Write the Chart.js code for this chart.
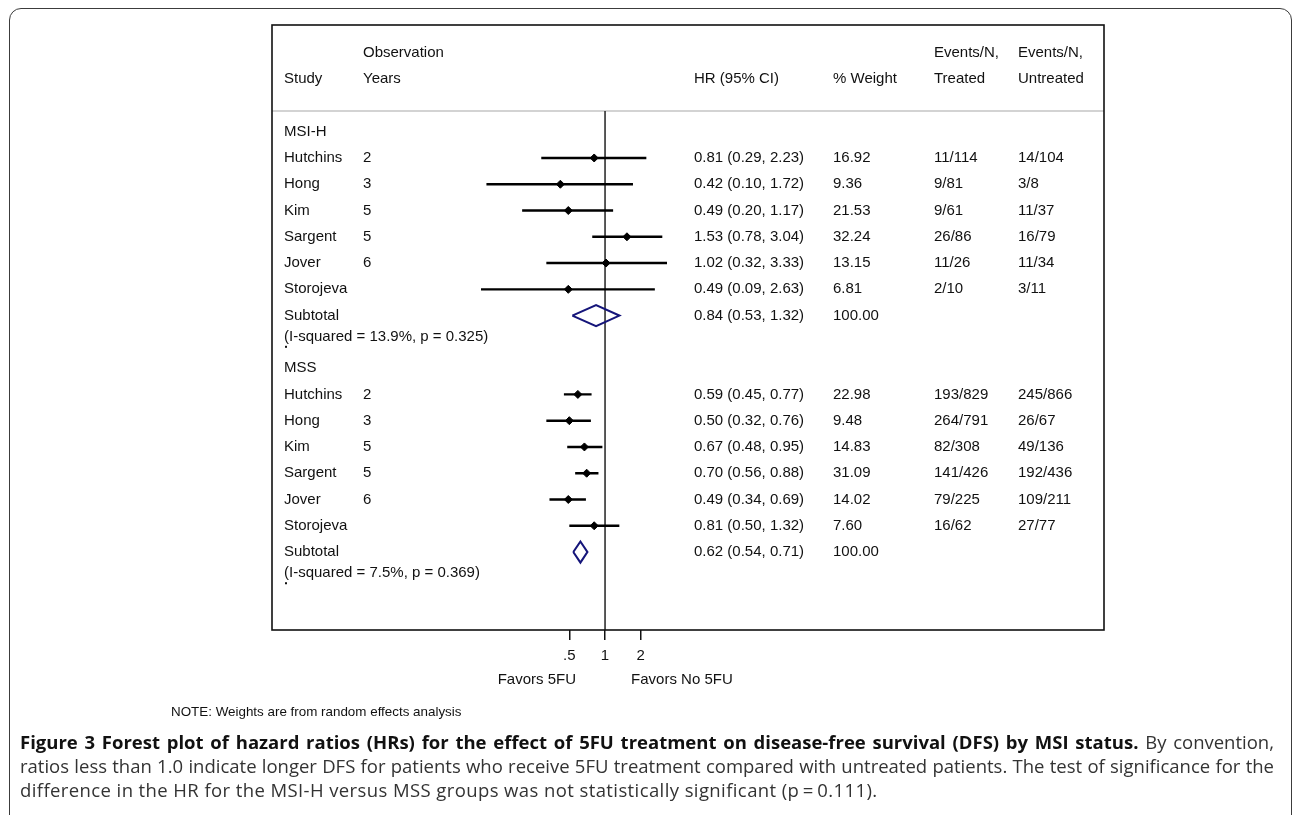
<!DOCTYPE html>
<html>
<head>
<meta charset="utf-8">
<script src="https://cdn.jsdelivr.net/npm/chart.js@4.4.0/dist/chart.umd.min.js"></script>
<style>
  html, body { margin: 0; padding: 0; background: #fff; }
  body { width: 1292px; height: 815px; position: relative; overflow: hidden; }
  #frame {
    position: absolute; left: 9px; top: 8px; width: 1283px; height: 860px;
    border: 1.5px solid #3c3c3c; border-radius: 12px; box-sizing: border-box;
  }
  #chart { position: absolute; left: 0; top: 0; }
  #note {
    position: absolute; left: 171px; top: 704px;
    font: 13.4px "Liberation Sans", Arial, sans-serif; color: #111;
  }
  #caption {
    position: absolute; left: 20px; top: 730px; width: 1254px;
    font: 18.5px "Open Sans", sans-serif; line-height: 24px; color: #333;
  }
  #caption div { white-space: nowrap; }
  #caption .full { text-align: justify; text-align-last: justify; }
  #caption .last { letter-spacing: 0.4px; }
  #caption b { color: #111; }
</style>
</head>
<body>
<div id="frame"></div>
<canvas id="chart" width="1292" height="815"></canvas>
<div id="note">NOTE: Weights are from random effects analysis</div>
<div id="caption">
  <div class="full"><b>Figure 3 Forest plot of hazard ratios (HRs) for the effect of 5FU treatment on disease-free survival (DFS) by MSI status.</b> By convention,</div>
  <div class="full">ratios less than 1.0 indicate longer DFS for patients who receive 5FU treatment compared with untreated patients. The test of significance for the</div>
  <div class="last">difference in the HR for the MSI-H versus MSS groups was not statistically significant (p&thinsp;=&thinsp;0.111).</div>
</div>

<script>
// ---- data ----
const groups = ['MSI-H', 'MSS'];
const studies = ['Hutchins', 'Hong', 'Kim', 'Sargent', 'Jover', 'Storojeva'];
const obsYears = ['2', '3', '5', '5', '6', ''];

const msihHR = [0.81, 0.42, 0.49, 1.53, 1.02, 0.49];
const msihLo = [0.29, 0.10, 0.20, 0.78, 0.32, 0.09];
const msihHi = [2.23, 1.72, 1.17, 3.04, 3.33, 2.63];
const msihWeight = ['16.92', '9.36', '21.53', '32.24', '13.15', '6.81'];
const msihTreated = ['11/114', '9/81', '9/61', '26/86', '11/26', '2/10'];
const msihUntreated = ['14/104', '3/8', '11/37', '16/79', '11/34', '3/11'];

const mssHR = [0.59, 0.50, 0.67, 0.70, 0.49, 0.81];
const mssLo = [0.45, 0.32, 0.48, 0.56, 0.34, 0.50];
const mssHi = [0.77, 0.76, 0.95, 0.88, 0.69, 1.32];
const mssWeight = ['22.98', '9.48', '14.83', '31.09', '14.02', '7.60'];
const mssTreated = ['193/829', '264/791', '82/308', '141/426', '79/225', '16/62'];
const mssUntreated = ['245/866', '26/67', '49/136', '192/436', '109/211', '27/77'];

// subtotals, one per group
const subtotalHR = [0.84, 0.62];
const subtotalLo = [0.53, 0.54];
const subtotalHi = [1.32, 0.71];
const subtotalHet = ['(I-squared = 13.9%, p = 0.325)', '(I-squared = 7.5%, p = 0.369)'];

const xTicks = [0.5, 1, 2];
const xTickLabels = ['.5', '1', '2'];

// ---- rows ----
const GROUP_ROWS = [0, 9];       // row index of each group heading
const SEP_ROW = -0.79;           // grey header separator
const DIAMOND_H = 0.4;

const hr = [msihHR, mssHR], lo = [msihLo, mssLo], hi = [msihHi, mssHi];
const weight = [msihWeight, mssWeight];
const treated = [msihTreated, mssTreated], untreated = [msihUntreated, mssUntreated];

const ciData = [], pointData = [], diamondData = [];
groups.forEach((g, gi) => {
  studies.forEach((s, i) => {
    const r = GROUP_ROWS[gi] + 1 + i;
    ciData.push({ x: lo[gi][i], y: r }, { x: hi[gi][i], y: r }, { x: null, y: null });
    pointData.push({ x: hr[gi][i], y: r });
  });
  const r = GROUP_ROWS[gi] + 7;
  diamondData.push(
    { x: subtotalLo[gi], y: r },
    { x: subtotalHR[gi], y: r - DIAMOND_H },
    { x: subtotalHi[gi], y: r },
    { x: subtotalHR[gi], y: r + DIAMOND_H },
    { x: subtotalLo[gi], y: r },
    { x: null, y: null }
  );
});

const FONT = '15px "Liberation Sans", Arial, sans-serif';
const COL = { study: 284, years: 363, hr: 694, weight: 833, treated: 934, untreated: 1018 };

const fmt = v => v.toFixed(2);

const forestTable = {
  id: 'forestTable',
  beforeDatasetsDraw(chart) {
    const { ctx, chartArea: a, scales: { x, y } } = chart;
    const sepY = y.getPixelForValue(SEP_ROW);
    ctx.save();
    ctx.strokeStyle = '#c4c4c4';
    ctx.lineWidth = 1.6;
    ctx.beginPath();
    ctx.moveTo(a.left, sepY);
    ctx.lineTo(a.right, sepY);
    ctx.stroke();
    const x1 = x.getPixelForValue(1);
    ctx.strokeStyle = '#222';
    ctx.lineWidth = 1.5;
    ctx.beginPath();
    ctx.moveTo(x1, sepY);
    ctx.lineTo(x1, a.bottom);
    ctx.stroke();
    ctx.restore();
  },
  afterDatasetsDraw(chart) {
    const { ctx, chartArea: a, scales: { x, y } } = chart;
    const yp = r => y.getPixelForValue(r);
    ctx.save();
    ctx.strokeStyle = '#111';
    ctx.lineWidth = 1.6;
    ctx.strokeRect(a.left, a.top, a.right - a.left, a.bottom - a.top);

    ctx.font = FONT;
    ctx.fillStyle = '#111';
    ctx.textBaseline = 'middle';
    ctx.textAlign = 'left';

    // header
    ctx.fillText('Observation', COL.years, yp(-3));
    ctx.fillText('Events/N,', COL.treated, yp(-3));
    ctx.fillText('Events/N,', COL.untreated, yp(-3));
    ctx.fillText('Study', COL.study, yp(-2));
    ctx.fillText('Years', COL.years, yp(-2));
    ctx.fillText('HR (95% CI)', COL.hr, yp(-2));
    ctx.fillText('% Weight', COL.weight, yp(-2));
    ctx.fillText('Treated', COL.treated, yp(-2));
    ctx.fillText('Untreated', COL.untreated, yp(-2));

    groups.forEach((g, gi) => {
      const g0 = GROUP_ROWS[gi];
      ctx.fillText(g, COL.study, yp(g0));
      studies.forEach((s, i) => {
        const r = g0 + 1 + i;
        ctx.fillText(s, COL.study, yp(r));
        ctx.fillText(obsYears[i], COL.years, yp(r));
        ctx.fillText(`${fmt(hr[gi][i])} (${fmt(lo[gi][i])}, ${fmt(hi[gi][i])})`, COL.hr, yp(r));
        ctx.fillText(weight[gi][i], COL.weight, yp(r));
        ctx.fillText(treated[gi][i], COL.treated, yp(r));
        ctx.fillText(untreated[gi][i], COL.untreated, yp(r));
      });
      const rs = g0 + 7;
      ctx.fillText('Subtotal', COL.study, yp(rs));
      ctx.fillText(subtotalHet[gi], COL.study, yp(rs + 0.8));
      ctx.fillRect(COL.study + 1, yp(rs + 1.15), 2, 2);
      ctx.fillText(`${fmt(subtotalHR[gi])} (${fmt(subtotalLo[gi])}, ${fmt(subtotalHi[gi])})`, COL.hr, yp(rs));
      ctx.fillText('100.00', COL.weight, yp(rs));
    });

    // axis side labels
    const x1 = x.getPixelForValue(1);
    const ly = a.bottom + 50;
    ctx.textAlign = 'right';
    ctx.fillText('Favors 5FU', x1 - 29, ly);
    ctx.textAlign = 'left';
    ctx.fillText('Favors No 5FU', x1 + 26, ly);
    ctx.restore();
  }
};

new Chart(document.getElementById('chart'), {
  type: 'scatter',
  data: {
    datasets: [
      {
        label: 'CI',
        data: ciData,
        showLine: true,
        spanGaps: false,
        borderColor: '#000',
        borderWidth: 2.4,
        pointRadius: 0
      },
      {
        label: 'HR',
        data: pointData,
        pointStyle: 'rectRot',
        pointRadius: 4,
        pointBackgroundColor: '#000',
        pointBorderColor: '#000',
        pointBorderWidth: 1
      },
      {
        label: 'Subtotal',
        data: diamondData,
        showLine: true,
        spanGaps: false,
        borderColor: '#15157a',
        borderWidth: 2.1,
        borderJoinStyle: 'miter',
        pointRadius: 0
      }
    ]
  },
  options: {
    responsive: false,
    devicePixelRatio: 1,
    animation: false,
    layout: { padding: { left: 272, right: 188, top: 25, bottom: 143 } },
    plugins: { legend: { display: false }, tooltip: { enabled: false } },
    scales: {
      x: {
        type: 'logarithmic',
        min: 0.001556,
        max: 16106,
        bounds: 'data',
        afterBuildTicks: scale => { scale.ticks = xTicks.map(v => ({ value: v })); },
        ticks: {
          autoSkip: false,
          maxRotation: 0,
          padding: 7,
          color: '#111',
          font: { family: '"Liberation Sans", Arial, sans-serif', size: 15 },
          callback: v => xTickLabels[xTicks.indexOf(v)]
        },
        grid: {
          drawOnChartArea: false,
          drawTicks: true,
          tickLength: 10,
          color: '#111',
          lineWidth: 1.5
        },
        border: { display: false }
      },
      y: {
        type: 'linear',
        display: false,
        reverse: true,
        min: -4.062,
        max: 18.968,
        bounds: 'data'
      }
    }
  },
  plugins: [forestTable]
});
</script>
</body>
</html>
